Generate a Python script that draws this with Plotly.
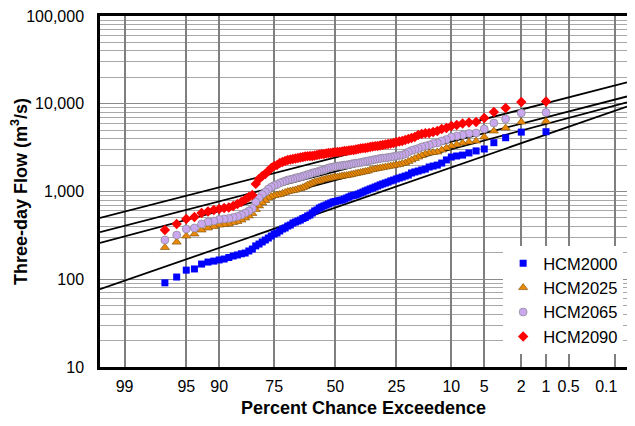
import plotly.graph_objects as go
from statistics import NormalDist

nd = NormalDist()

# ---------------- data ----------------
series_names = ["HCM2000", "HCM2025", "HCM2065", "HCM2090"]
# percent chance exceedence of each ranked value (rank m of 99 -> m %)
exceed_pct = list(range(1, 98))

hcm2000 = [4800, 4750, 4100, 3600, 3050, 2900, 2750, 2600, 2540, 2470,
           2290, 2110, 2000, 1950, 1900, 1800, 1760, 1710, 1670, 1625,
           1540, 1500, 1460, 1425, 1390, 1350, 1320, 1280, 1250, 1220,
           1190, 1155, 1125, 1095, 1070, 1040, 1015, 985, 960, 935,
           912, 905, 890, 865, 843, 820, 800, 795, 780, 770,
           760, 740, 721, 702, 684, 666, 649, 616, 600, 569,
           540, 526, 505, 492, 473, 461, 449, 437, 415, 404,
           384, 374, 355, 337, 328, 311, 295, 280, 266, 252,
           240, 221, 210, 199, 195, 189, 184, 177, 170, 166,
           161, 157, 149, 131, 127, 106, 91]

hcm2025 = [6300, 6200, 5290, 4890, 4180, 3760, 3670, 3570, 3430, 3300,
           3130, 2970, 2820, 2780, 2750, 2675, 2570, 2470, 2380, 2285,
           2200, 2110, 2085, 2030, 2005, 1980, 1950, 1925, 1900, 1875,
           1855, 1830, 1805, 1780, 1760, 1710, 1690, 1670, 1645, 1625,
           1605, 1585, 1560, 1540, 1520, 1515, 1500, 1480, 1465, 1460,
           1445, 1425, 1405, 1390, 1370, 1350, 1315, 1300, 1285, 1250,
           1215, 1185, 1140, 1110, 1080, 1068, 1040, 1025, 1013, 1000,
           975, 950, 925, 912, 900, 877, 843, 790, 740, 685,
           625, 562, 526, 499, 473, 455, 443, 426, 420, 415,
           399, 384, 364, 328, 311, 265, 230]

hcm2065 = [7950, 7850, 6700, 6040, 5160, 4640, 4580, 4400, 4290, 4180,
           3910, 3760, 3570, 3525, 3390, 3300, 3215, 3090, 3010, 2930,
           2820, 2675, 2605, 2570, 2540, 2505, 2470, 2440, 2410, 2405,
           2380, 2345, 2315, 2285, 2255, 2225, 2197, 2168, 2140, 2112,
           2105, 2085, 2055, 2030, 2005, 2000, 1980, 1955, 1950, 1927,
           1900, 1875, 1853, 1805, 1758, 1735, 1712, 1668, 1646, 1625,
           1583, 1562, 1521, 1502, 1463, 1443, 1425, 1388, 1370, 1352,
           1317, 1283, 1250, 1200, 1170, 1125, 1068, 987, 924, 843,
           759, 641, 600, 569, 540, 519, 505, 493, 486, 480,
           461, 449, 426, 384, 374, 319, 280]

hcm2090 = [10600, 10450, 8950, 8050, 6880, 6200, 6110, 5960, 5730, 5580,
           5290, 5160, 4890, 4770, 4640, 4620, 4520, 4400, 4180, 4070,
           3970, 3860, 3760, 3714, 3670, 3570, 3525, 3480, 3430, 3390,
           3345, 3300, 3290, 3260, 3215, 3170, 3130, 3120, 3090, 3050,
           3010, 2970, 2960, 2930, 2895, 2890, 2860, 2820, 2815, 2810,
           2780, 2750, 2745, 2710, 2675, 2670, 2640, 2605, 2570, 2540,
           2535, 2530, 2505, 2470, 2440, 2410, 2380, 2345, 2315, 2285,
           2225, 2170, 2110, 2000, 1950, 1850, 1710, 1580, 1500, 1390,
           1220, 912, 866, 810, 760, 720, 684, 657, 649, 632,
           616, 592, 569, 512, 486, 426, 364]

# fitted (log-normal) lines: flow at the two ends of the axis
axis_ends_pct = [99.53, 0.064]
fit_left = [77, 259, 345, 499]
fit_right = [9300, 10350, 12100, 17500]

tick_pct = [99, 95, 90, 75, 50, 25, 10, 5, 2, 1, 0.5, 0.1]
tick_text = ["99", "95", "90", "75", "50", "25", "10", "5", "2", "1", "0.5",
             "0.1\u00a0\u00a0\u00a0\u00a0"]
y_ticks = [10, 100, 1000, 10000, 100000]
y_text = ["10", "100", "1,000", "10,000", "100,000"]

# ---------------- styles ----------------
styles = {
    "HCM2000": dict(symbol="square", size=7, color="#0000FF", line=dict(width=0)),
    "HCM2025": dict(symbol="triangle-up", size=8, color="#E8890C", line=dict(width=0.6, color="#7a4a00")),
    "HCM2065": dict(symbol="circle", size=8, color="#C9A8F0", line=dict(width=0.6, color="#808080")),
    "HCM2090": dict(symbol="diamond", size=8, color="#FF0000", line=dict(width=0)),
}


def zpos(p):
    """probability-paper position for percent chance exceedence"""
    return nd.inv_cdf(1 - p / 100.0)


xs = [zpos(p) for p in exceed_pct]
x_ends = [zpos(p) for p in axis_ends_pct]

fig = go.Figure()

for i, name in enumerate(series_names):
    fig.add_trace(go.Scatter(x=x_ends, y=[fit_left[i], fit_right[i]], mode="lines",
                             line=dict(color="black", width=1.8), showlegend=False,
                             hoverinfo="skip"))

values = {"HCM2000": hcm2000, "HCM2025": hcm2025, "HCM2065": hcm2065, "HCM2090": hcm2090}
for i, name in enumerate(series_names):
    fig.add_trace(go.Scatter(x=xs, y=values[name], mode="markers", name=name,
                             marker=styles[name], legendgroup=name))

minor_vals = [m * 10 ** d for d in range(1, 5) for m in range(2, 10)]

# the page body adds an 8px margin, so the figure is offset by it
fig.update_layout(
    width=627, height=410,
    margin=dict(l=92, r=0, t=8, b=51),
    plot_bgcolor="white", paper_bgcolor="white",
    font=dict(family="Arial, Liberation Sans, sans-serif", size=16, color="black"),
    legend=dict(x=0.765, y=0.345, xanchor="left", yanchor="top", bgcolor="white",
                borderwidth=0, font=dict(size=16.5), tracegroupgap=1,
                traceorder="normal"),
)

fig.update_xaxes(
    range=x_ends, tickmode="array", tickvals=[zpos(p) for p in tick_pct], ticktext=tick_text,
    showgrid=True, gridcolor="#7f7f7f", gridwidth=1.5, zeroline=False,
    showline=True, linecolor="black", linewidth=2.5, mirror=True,
    ticks="", ticklabelstandoff=3, ticklabeloverflow="allow",
    title=dict(text="<b>Percent Chance Exceedence</b>", font=dict(size=18), standoff=10),
)
fig.update_yaxes(
    type="log", range=[1, 5], tickmode="array", tickvals=y_ticks, ticktext=y_text,
    showgrid=True, gridcolor="#8a8a8a", gridwidth=1.3, zeroline=False,
    showline=True, linecolor="black", linewidth=2.5, mirror=False,
    ticks="", ticklabelstandoff=10, ticklabeloverflow="allow",
    minor=dict(tickmode="array", tickvals=minor_vals, showgrid=True, gridcolor="#a8a8a8", gridwidth=1.3, ticks=""),
    title=dict(text="<b>Three-day Flow (m<sup>3</sup>/s)</b>", font=dict(size=18), standoff=0),
)

fig.write_html("out.html")
